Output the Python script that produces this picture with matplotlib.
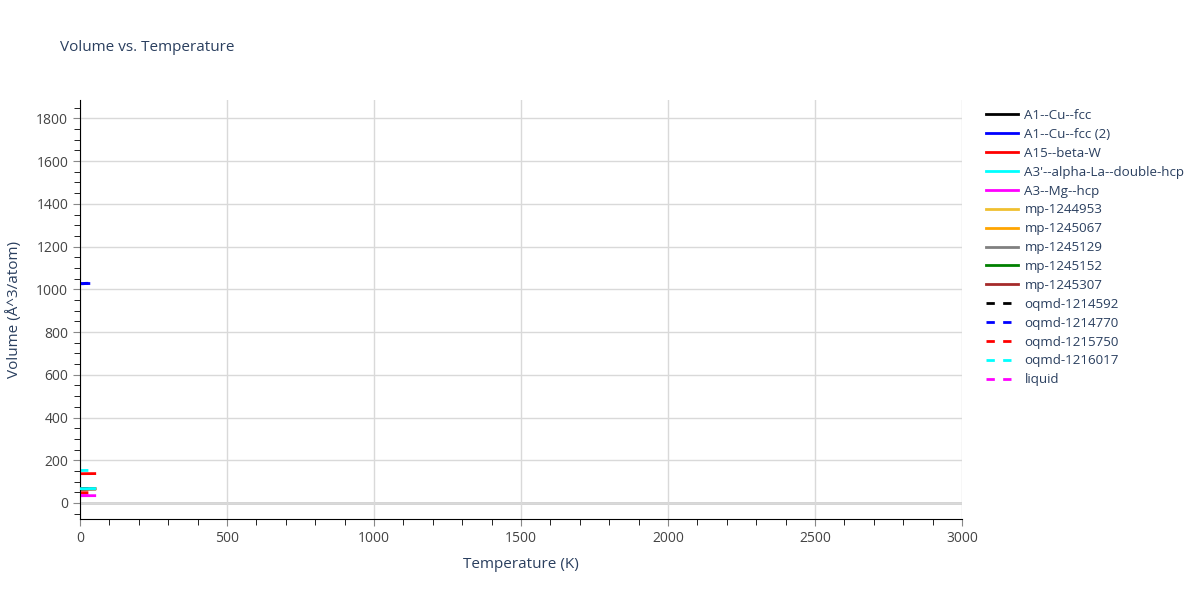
import numpy as np
import matplotlib
matplotlib.use('Agg')
import matplotlib.pyplot as plt
from matplotlib.ticker import MultipleLocator

plt.rcParams['font.family'] = ['Open Sans', 'DejaVu Sans']

# series names, colours, dash style
names = ['A1--Cu--fcc', 'A1--Cu--fcc (2)', 'A15--beta-W', "A3'--alpha-La--double-hcp",
         'A3--Mg--hcp', 'mp-1244953', 'mp-1245067', 'mp-1245129', 'mp-1245152',
         'mp-1245307', 'oqmd-1214592', 'oqmd-1214770', 'oqmd-1215750',
         'oqmd-1216017', 'liquid']
colors = ['black', 'blue', 'red', 'cyan', 'magenta', '#f0c030', 'orange', 'gray',
          'green', 'brown', 'black', 'blue', 'red', 'cyan', 'magenta']
dashed = [False] * 10 + [True] * 5

# temperatures (K) and volumes (A^3/atom)
temps_short = [0, 10, 20, 30]
temps_long = [0, 10, 20, 30, 40, 50]
volumes = {
    'A1--Cu--fcc': [66.5, 66.6, 66.7, 66.8, 66.9, 67.0],
    'A1--Cu--fcc (2)': [1026, 1026, 1027, 1027],
    'A15--beta-W': [137.0, 137.1, 137.2, 137.3, 137.4, 137.5],
    "A3'--alpha-La--double-hcp": [67.0, 67.1, 67.2, 67.3, 67.4, 67.5],
    'A3--Mg--hcp': [34.0, 34.0, 34.1, 34.1, 34.2, 34.2],
    'mp-1244953': [66.0, 66.1, 66.2, 66.3, 66.4, 66.5],
    'mp-1245067': [66.2, 66.3, 66.4, 66.5, 66.6, 66.7],
    'mp-1245129': [65.5, 65.6, 65.7, 65.8, 65.9, 66.0],
    'mp-1245152': [66.3, 66.4, 66.5, 66.6, 66.7, 66.8],
    'mp-1245307': [65.8, 65.9, 66.0, 66.1, 66.2, 66.3],
    'oqmd-1214592': [66.4, 66.5, 66.6, 66.7],
    'oqmd-1214770': [1027, 1027, 1028, 1028],
    'oqmd-1215750': [48.0, 48.0, 48.1, 48.1],
    'oqmd-1216017': [152.0, 152.1, 152.2, 152.3],
    'liquid': [34.5, 34.6, 34.7, 34.8, 34.9, 35.0],
}

fig = plt.figure(figsize=(12, 6), dpi=100)
ax = fig.add_axes([0.0667, 0.135, 0.735, 0.698])

for name, c, d in zip(names, colors, dashed):
    v = volumes[name]
    t = temps_short if len(v) == 4 else temps_long
    z = 3 if name.startswith("A3'") else 2
    ax.plot(t, v, color=c, lw=2, ls=(0, (3, 3)) if d else '-', label=name, zorder=z)

ax.set_xlim(0, 3000)
ax.set_ylim(-75, 1885)
ax.xaxis.set_major_locator(MultipleLocator(500))
ax.xaxis.set_minor_locator(MultipleLocator(100))
ax.yaxis.set_major_locator(MultipleLocator(200))
ax.yaxis.set_minor_locator(MultipleLocator(50))
ax.grid(True, which='major', color='#d9d9d9', lw=1)
ax.axhline(0, color='#d0d0d0', lw=2, zorder=0.5)
ax.set_axisbelow(True)
for s in ['top', 'right']:
    ax.spines[s].set_visible(False)
ax.spines['left'].set_color('black')
ax.spines['bottom'].set_color('black')
ax.tick_params(which='both', direction='out', colors='#444444', labelsize=10)
ax.tick_params(which='major', length=5, color='#888888')
ax.tick_params(which='minor', length=4, color='black')

ax.set_xlabel('Temperature (K)', fontsize=11, color='#2a3f5f', labelpad=8)
ax.set_ylabel('Volume (Å^3/atom)', fontsize=11, color='#2a3f5f', labelpad=10)
fig.text(0.05, 0.915, 'Volume vs. Temperature', fontsize=11, color='#2a3f5f')

leg = fig.legend(loc='upper left', bbox_to_anchor=(0.817, 0.827), frameon=False,
                 fontsize=9.6, handlelength=2.4, handletextpad=0.5,
                 labelspacing=0.44, borderaxespad=0)
for t in leg.get_texts():
    t.set_color('#2a3f5f')

fig.savefig('out.png', dpi=100)
